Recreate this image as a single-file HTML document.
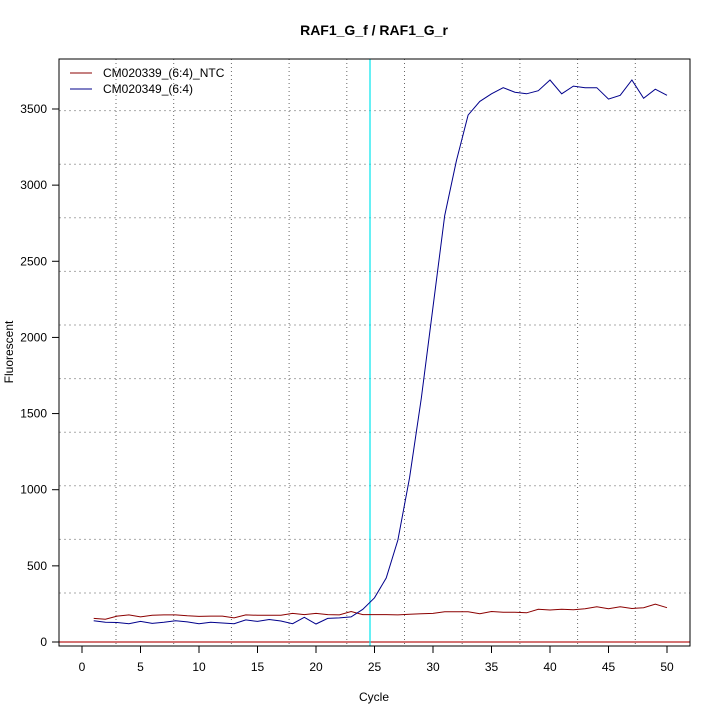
<!DOCTYPE html>
<html><head><style>body{margin:0;background:#fff}svg text{font-family:"Liberation Sans",sans-serif}</style></head>
<body>
<svg id="s" width="720" height="720" xmlns="http://www.w3.org/2000/svg">
<rect width="720" height="720" fill="#fff"/>
<text x="374" y="35" font-size="14" font-weight="bold" text-anchor="middle">RAF1_G_f / RAF1_G_r</text>
<g id="gv" stroke="#666" stroke-width="1" stroke-dasharray="1,3"></g>
<g id="gh" stroke="#aaa" stroke-width="1" stroke-dasharray="2,3"></g>
<line x1="59" y1="642" x2="690" y2="642" stroke="#b22" stroke-width="1.2"/>
<line x1="370" y1="59" x2="370" y2="646" stroke="#00e5ee" stroke-width="1.2"/>
<polyline id="red" fill="none" stroke="#8b0000" stroke-width="1"/>
<polyline id="blue" fill="none" stroke="#00008b" stroke-width="1"/>
<rect x="59" y="59" width="631" height="587" fill="none" stroke="#000" stroke-width="1"/>
<g id="ax" stroke="#000" stroke-width="1"></g>
<g id="lab" font-size="12"></g>
<line x1="70" y1="73" x2="92" y2="73" stroke="#8b0000"/>
<line x1="70" y1="89" x2="92" y2="89" stroke="#00008b"/>
<text x="103" y="77" font-size="12">CM020339_(6:4)_NTC</text>
<text x="103" y="93" font-size="12">CM020349_(6:4)</text>
<text x="374" y="701" font-size="12" text-anchor="middle">Cycle</text>
<text transform="translate(13,352) rotate(-90)" font-size="12" text-anchor="middle">Fluorescent</text>
</svg>
<script>
var X=function(c){return 82+c*11.7},Y=function(v){return 642-v*0.15229};
var b=[140,130,128,120,135,122,130,140,132,120,130,125,120,145,135,148,138,120,162,118,155,158,165,215,290,420,670,1080,1600,2200,2800,3160,3460,3550,3600,3640,3610,3600,3620,3690,3600,3650,3640,3640,3565,3590,3690,3570,3630,3590];
var r=[155,150,170,178,165,175,178,178,172,168,170,170,158,178,175,175,175,188,180,188,180,178,200,180,180,180,178,182,185,188,198,198,198,185,200,195,195,192,215,210,215,212,218,232,218,232,220,225,248,225];
function pts(a){return a.map(function(v,i){return X(i+1).toFixed(1)+","+Y(v).toFixed(1)}).join(" ")}
document.getElementById("red").setAttribute("points",pts(r));
document.getElementById("blue").setAttribute("points",pts(b));
var NS="http://www.w3.org/2000/svg",gv=document.getElementById("gv"),gh=document.getElementById("gh"),ax=document.getElementById("ax"),lab=document.getElementById("lab");
function L(p,a,b,c,d){var l=document.createElementNS(NS,"line");l.setAttribute("x1",a);l.setAttribute("y1",b);l.setAttribute("x2",c);l.setAttribute("y2",d);p.appendChild(l)}
function T(x,y,s,an){var t=document.createElementNS(NS,"text");t.setAttribute("x",x);t.setAttribute("y",y);t.setAttribute("text-anchor",an);t.textContent=s;lab.appendChild(t)}
for(var x=116;x<690;x+=57.7)L(gv,x,59,x,646);
for(var y=593;y>62;y-=53.6)L(gh,59,y,690,y);
for(var c=0;c<=50;c+=5){L(ax,X(c),646,X(c),653);T(X(c),671,c,"middle")}
for(var v=0;v<=3500;v+=500){L(ax,52,Y(v),59,Y(v));T(47,Y(v)+4,v,"end")}
</script>
</body></html>
